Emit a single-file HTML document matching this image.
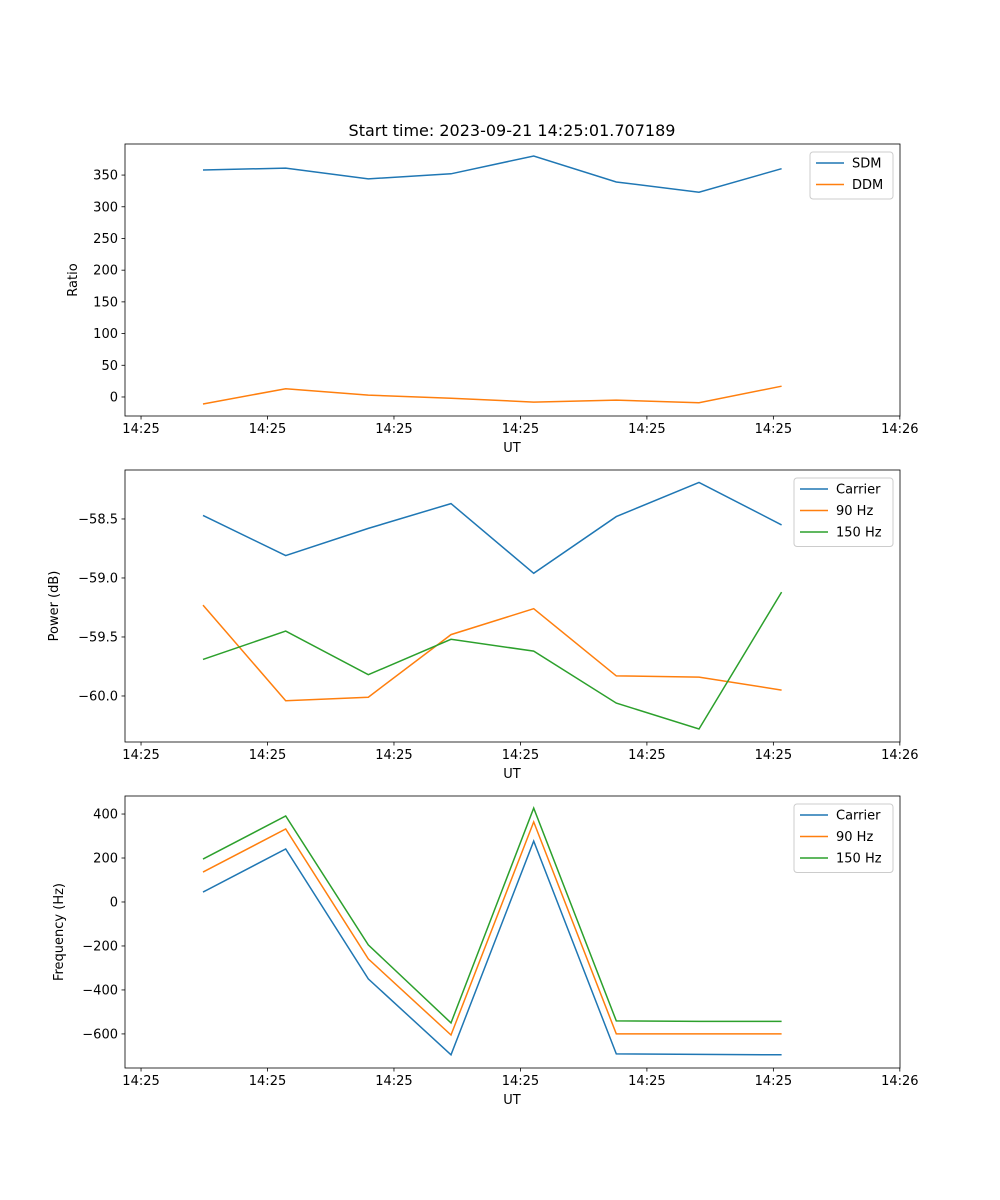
<!DOCTYPE html>
<html><head><meta charset="utf-8"><style>
body{margin:0;background:#fff}
svg{display:block;font-family:"DejaVu Sans","Liberation Sans",sans-serif}
</style></head><body>
<svg id="chart" width="1000" height="1200"></svg>
<script>
// data
const timeIndex=[0,1,2,3,4,5,6,7];
const tickPositions=[-0.75,0.78,2.31,3.84,5.37,6.90,8.43];
const tickLabels=["14:25","14:25","14:25","14:25","14:25","14:25","14:26"];
const sdm=[358,361,344,352,380,339,323,360];
const ddm=[-11,13,3,-2,-8,-5,-9,17];
const powCarrier=[-58.47,-58.81,-58.58,-58.37,-58.96,-58.48,-58.19,-58.55];
const pow90=[-59.23,-60.04,-60.01,-59.48,-59.26,-59.83,-59.84,-59.95];
const pow150=[-59.69,-59.45,-59.82,-59.52,-59.62,-60.06,-60.28,-59.12];
const freqCarrier=[45,241,-350,-695,277,-691,-693,-695];
const freq90=[136,332,-259,-605,364,-600,-600,-600];
const freq150=[195,391,-195,-550,427,-541,-543,-543];
const ticks1=[0,50,100,150,200,250,300,350];
const ticks2=[-60.0,-59.5,-59.0,-58.5];
const ticks3=[-600,-400,-200,0,200,400];

const NS="http://www.w3.org/2000/svg";
const svg=document.getElementById('chart');
function el(tag,attrs,parent,text){const e=document.createElementNS(NS,tag);for(const k in attrs)e.setAttribute(k,attrs[k]);if(text!==undefined)e.textContent=text;(parent||svg).appendChild(e);return e;}
const X0=125,X1=900,XMIN=-0.944,XMAX=8.432;
function xs(i){return X0+(i-XMIN)/(XMAX-XMIN)*(X1-X0);}
const C=["#1f77b4","#ff7f0e","#2ca02c"];

function panel(name,top,ymin,ymax,yticks,fmt,ylabel,series,names,legW){
  const bot=top+272;
  const ys=v=>bot-(v-ymin)/(ymax-ymin)*272;
  const g=el('g',{});
  
  
  series.forEach((s,k)=>{
    const p=el('polyline',{points:s.map((v,i)=>xs(timeIndex[i]).toFixed(1)+","+ys(v).toFixed(1)).join(" "),fill:"none",stroke:C[k],"stroke-width":1.5},g);
    
    
  });
  const fr=el('rect',{x:X0,y:top,width:X1-X0,height:272,fill:"none",stroke:"#000","stroke-width":0.8},g);
  
  
  tickPositions.forEach((t,i)=>{
    const x=xs(t);
    el('line',{x1:x,x2:x,y1:bot,y2:bot+3.5,stroke:"#000","stroke-width":0.8},g);
    const tl=el('text',{x:x,y:bot+17,"text-anchor":"middle","font-size":13},g,tickLabels[i]);
    
    
  });
  yticks.forEach(t=>{
    const y=ys(t);
    el('line',{x1:X0-3.5,x2:X0,y1:y,y2:y,stroke:"#000","stroke-width":0.8},g);
    const tl=el('text',{x:X0-7,y:y+4.5,"text-anchor":"end","font-size":13},g,fmt(t));
    
    
  });
  const xl=el('text',{x:512,y:bot+36,"text-anchor":"middle","font-size":13},g,"UT");
  
  
  const lx=X0-ylabel.off;
  const yl=el('text',{x:lx,y:top+136,"text-anchor":"middle","font-size":13,transform:`rotate(-90 ${lx} ${top+136})`},g,ylabel.t);
  
  
  const lg=el('g',{},g);
  
  
  const lx0=893-legW;
  el('rect',{x:lx0,y:top+8,width:legW,height:names.length*21.5+4,fill:"#fff",stroke:"#ccc",rx:3},lg);
  names.forEach((n,k)=>{
    const yy=top+19+k*21.5;
    el('line',{x1:lx0+6,x2:lx0+34,y1:yy,y2:yy,stroke:C[k],"stroke-width":1.5},lg);
    const t=el('text',{x:lx0+42,y:yy+4.5,"font-size":13},lg,n);
    
    
  });
}
const title=el('text',{x:512,y:136,"text-anchor":"middle","font-size":16},svg,"Start time: 2023-09-21 14:25:01.707189");


panel('ratio-panel',144,-30,399,ticks1,v=>String(v),{t:"Ratio",off:48},[sdm,ddm],["SDM","DDM"],83);
panel('power-panel',470,-60.39,-58.085,ticks2,v=>"\u2212"+Math.abs(v).toFixed(1),{t:"Power (dB)",off:67},[powCarrier,pow90,pow150],["Carrier","90 Hz","150 Hz"],99);
panel('frequency-panel',796,-755,482,ticks3,v=>v<0?"\u2212"+Math.abs(v):String(v),{t:"Frequency (Hz)",off:62},[freqCarrier,freq90,freq150],["Carrier","90 Hz","150 Hz"],99);
</script>
</body></html>
